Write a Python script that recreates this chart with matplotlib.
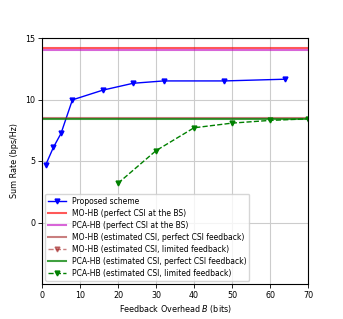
import numpy as np
import matplotlib
matplotlib.use('Agg')
import matplotlib.pyplot as plt

# feedback overhead B (bits) and sum rate (bps/Hz)
bits_prop = [1, 3, 5, 8, 16, 24, 32, 48, 64]
rate_prop = [4.70, 6.11, 7.24, 9.97, 10.76, 11.32, 11.51, 11.51, 11.65]

bits_lim = [20, 30, 40, 50, 60, 70]
rate_pca_lim = [3.19, 5.84, 7.70, 8.08, 8.30, 8.43]
rate_mo_lim = []  # not visible in the figure

rate_mo_perfect = 14.15
rate_pca_perfect = 14.02
rate_mo_est = 8.53
rate_pca_est = 8.43

plt.rcParams['font.size'] = 5.8

fig = plt.figure(figsize=(3.43, 3.19), dpi=100)
ax = fig.add_axes([42 / 343, 1 - 284 / 319, 266 / 343, 246 / 319])

ax.plot(bits_prop, rate_prop, 'b-v', lw=1, ms=3.5, label='Proposed scheme')
ax.axhline(rate_mo_perfect, color='red', alpha=0.65, lw=1.5, label='MO-HB (perfect CSI at the BS)')
ax.axhline(rate_pca_perfect, color='m', alpha=0.6, lw=1.5, label='PCA-HB (perfect CSI at the BS)')
ax.axhline(rate_mo_est, color='brown', alpha=0.6, lw=1.5, label='MO-HB (estimated CSI, perfect CSI feedback)')
ax.plot(bits_lim[:len(rate_mo_lim)], rate_mo_lim, '--v', color='brown', alpha=0.6, lw=1, ms=3.5,
        label='MO-HB (estimated CSI, limited feedback)')
ax.axhline(rate_pca_est, color='green', alpha=0.75, lw=1.5, label='PCA-HB (estimated CSI, perfect CSI feedback)')
ax.plot(bits_lim, rate_pca_lim, '--v', color='green', lw=1, ms=3.5,
        label='PCA-HB (estimated CSI, limited feedback)')

ax.set_xlim(0, 70)
ax.set_ylim(-5, 15)
ax.set_xticks(np.arange(0, 71, 10))
ax.set_yticks([0, 5, 10, 15])
ax.grid(True, color='#cccccc', lw=0.8)
ax.tick_params(length=3, width=0.6, pad=2)
for s in ax.spines.values():
    s.set_linewidth(0.8)
ax.set_xlabel('Feedback Overhead $B$ (bits)', labelpad=2)
ax.set_ylabel('Sum Rate (bps/Hz)', labelpad=4)
ax.legend(loc='lower left', fontsize=5.5, handlelength=2.3, borderaxespad=0.4, labelspacing=0.4)

fig.savefig('out.png', dpi=100)
